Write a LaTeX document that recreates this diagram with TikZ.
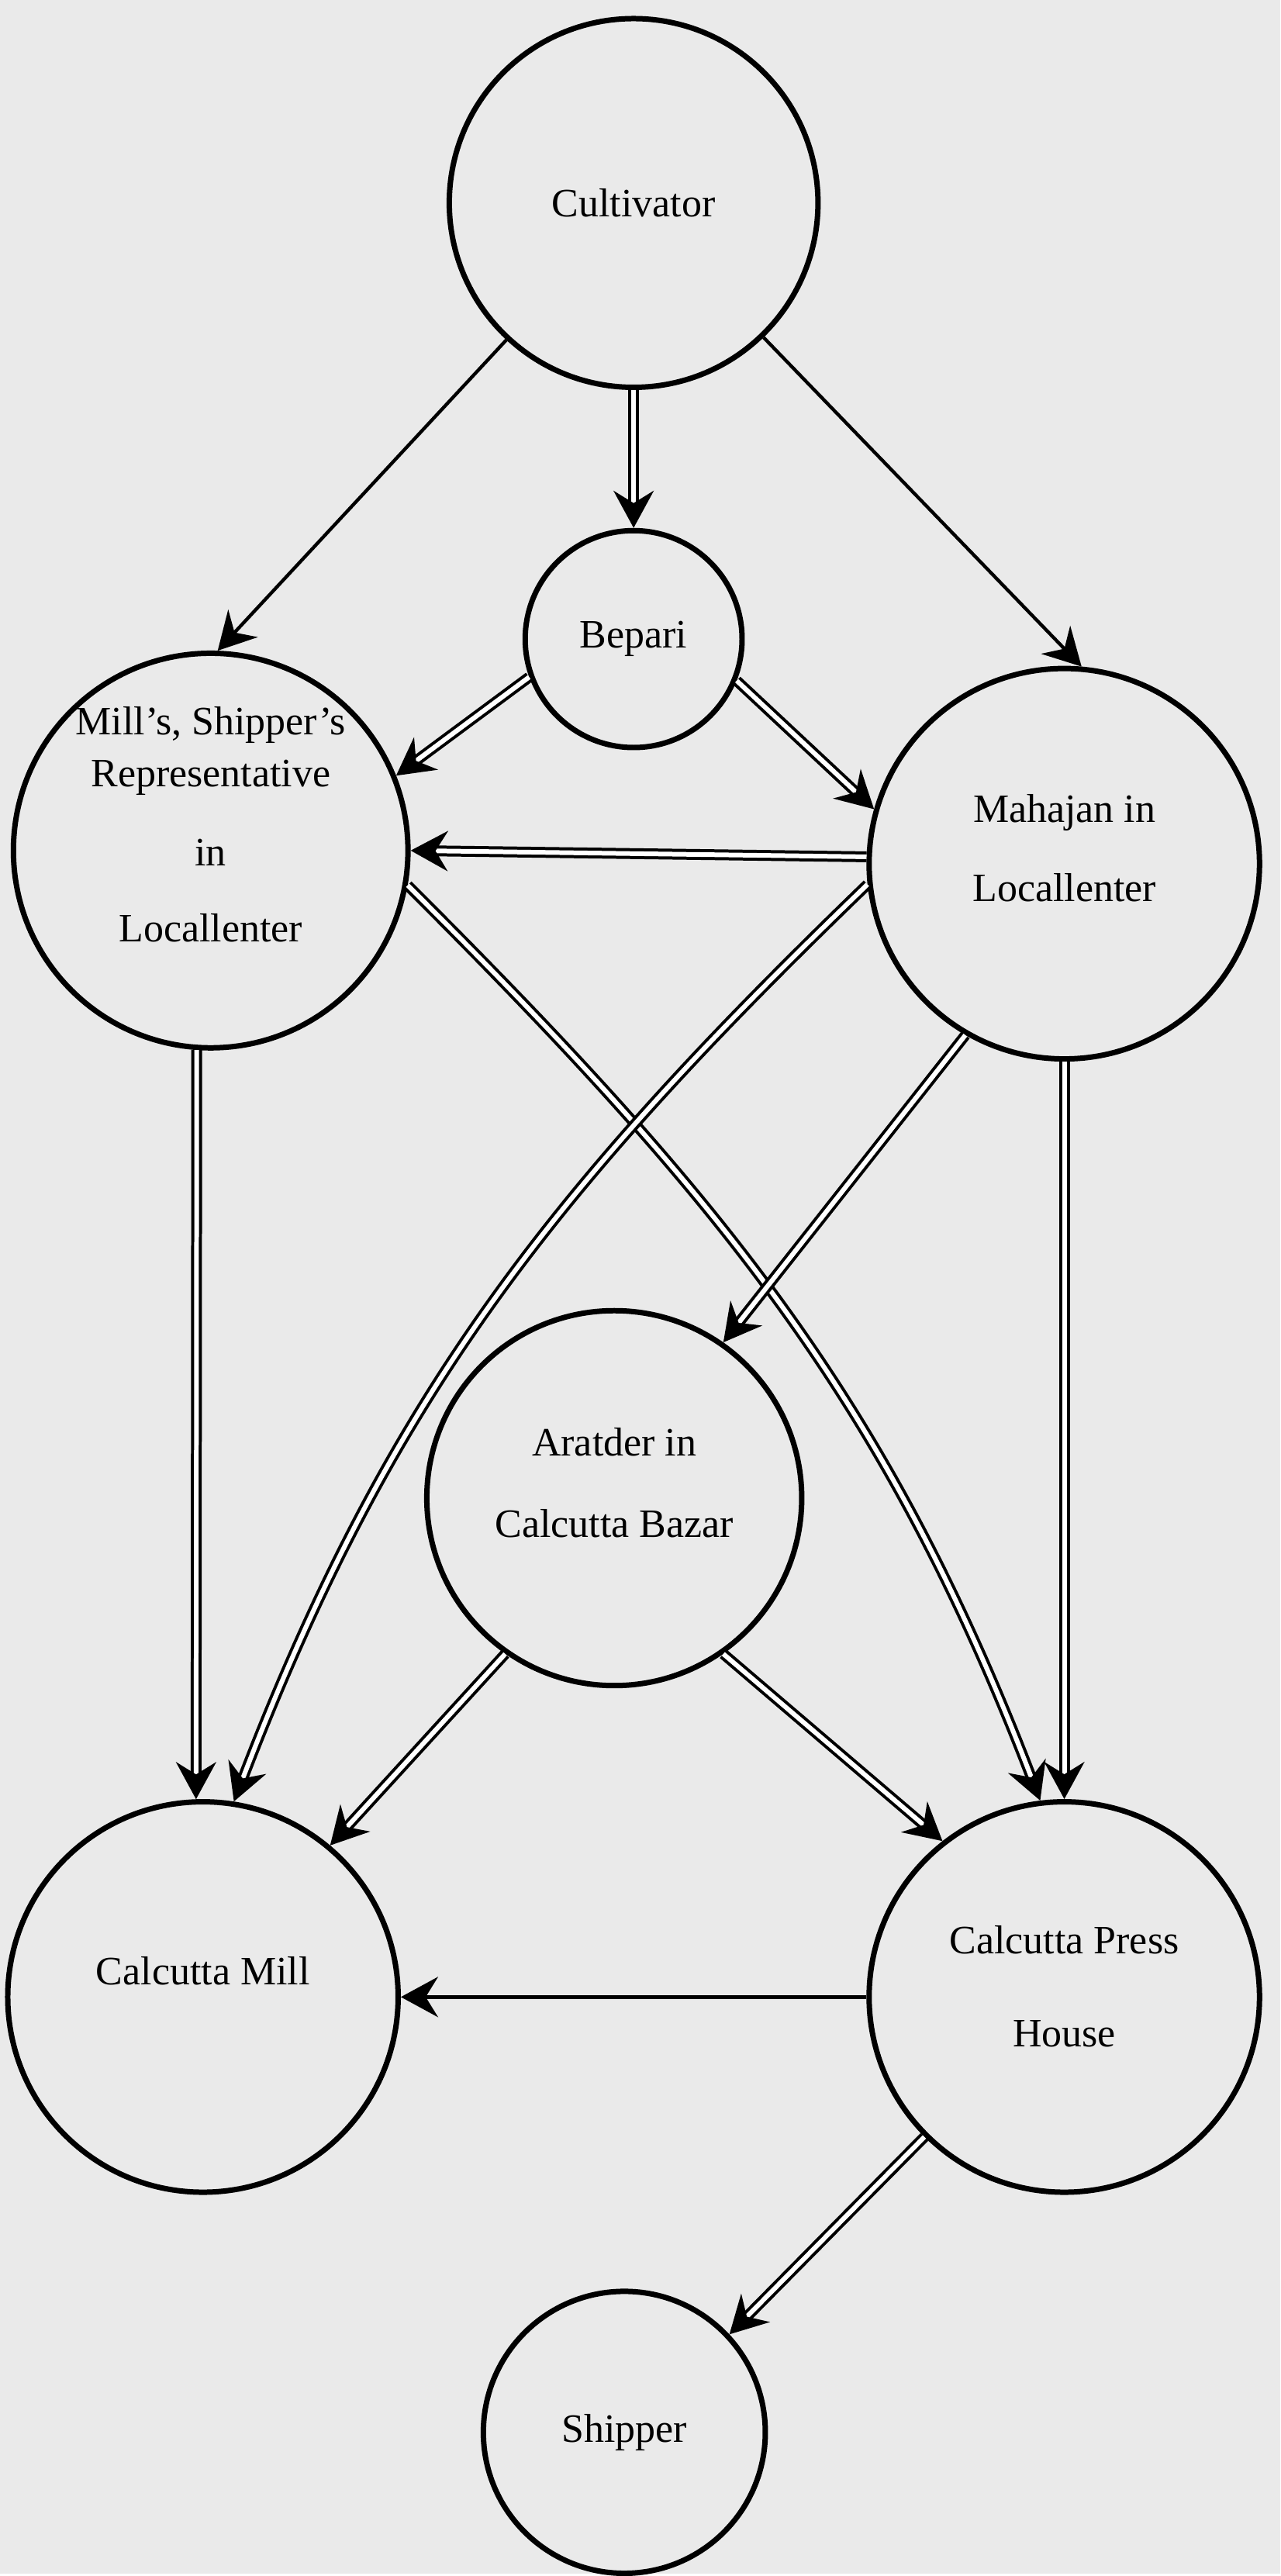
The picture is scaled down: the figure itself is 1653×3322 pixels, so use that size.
\documentclass[tikz,border=0pt]{standalone}
\usepackage{fontspec}
\setmainfont{Liberation Serif}
\usetikzlibrary{arrows.meta}

\definecolor{paper}{RGB}{234,234,234}

\tikzset{
  stage/.style={circle, draw, line width=3.5pt, inner sep=0pt, align=center,
    font=\fontsize{26}{34}\selectfont},
  flow/.style={line width=2.2pt, -{Stealth[length=24pt,width=26pt,inset=8pt]}},
  dflow/.style={flow, line width=2pt, double, double distance=3pt},
}

\begin{document}
\begin{tikzpicture}[x=0.5pt,y=0.5pt]
    % paper
    \fill[paper] (0,0) rectangle (1653,-3322);

    % stages
    \node[stage, minimum size=238pt] (cult) at (818,-262) {Cultivator};
    \node[stage, minimum size=140pt] (bepari) at (818,-825) {Bepari};
    \node[stage, minimum size=252pt] (rep) at (272,-1098) {Mill's, Shipper's\\Representative\\[17pt]in\\[15pt]Locallenter\\\mbox{}};
    \node[stage, minimum size=252pt] (mahajan) at (1374,-1115) {Mahajan in\\[17pt]Locallenter\\[-14pt]\mbox{}};
    \node[stage, minimum size=242pt] (aratder) at (793,-1934) {Aratder in\\[19pt]Calcutta Bazar\\[-14pt]\mbox{}};
    \node[stage, minimum size=252pt] (mill) at (262,-2578) {Calcutta Mill\\\mbox{}};
    \node[stage, minimum size=252pt] (press) at (1374,-2578) {Calcutta Press\\[26pt]House\\[-20pt]\mbox{}};
    \node[stage, minimum size=182pt] (shipper) at (806,-3140) {Shipper};

    % flows
    \draw[flow] (cult) -- (rep.88);
    \draw[dflow] (cult) -- (bepari);
    \draw[flow] (cult) -- (mahajan.85);
    \draw[dflow] (bepari.200) -- (rep.22);
    \draw[dflow] (bepari.338) -- (mahajan.164);
    \draw[dflow] (mahajan.178) -- (rep.east);
    \draw[dflow] (rep.350) to[out=-45,in=111] (press.97);
    \draw[dflow] (mahajan.186) to[out=224,in=69] (mill.81);
    \draw[dflow] (mahajan.240) -- (aratder.55);
    \draw[dflow] (rep.266) -- (mill.92);
    \draw[dflow] (mahajan) -- (press);
    \draw[dflow] (aratder.235) -- (mill.50);
    \draw[dflow] (aratder.305) -- (press.128);
    \draw[flow] (press) -- (mill);
    \draw[dflow] (press.225) -- (shipper.43);
\end{tikzpicture}
\end{document}
